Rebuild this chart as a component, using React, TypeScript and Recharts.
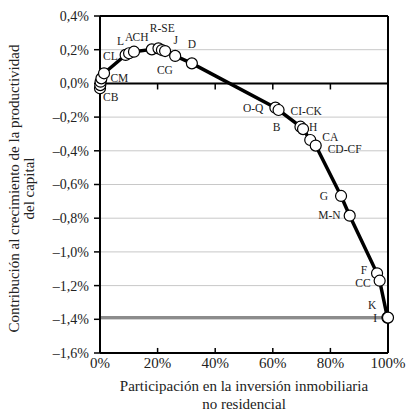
import React from 'react';
import {
  ComposedChart,
  Line,
  XAxis,
  YAxis,
  CartesianGrid,
  ReferenceLine,
  LabelList,
  Label,
} from 'recharts';

// sector codes, in the order they appear along the curve
const sectors = [
  'CB', '', '', 'CM', 'CL', 'L', 'A', 'CH', 'R-SE', '', 'CG', '', 'J', 'D',
  'O-Q', 'CI-CK', 'B', 'H', 'CA', 'CD-CF', 'G', 'M-N', 'F', 'CC', 'K', 'I',
];
// cumulative share of non-residential real estate investment (%)
const share = [
  0.0, 0.1, 0.2, 0.5, 1.4, 8.9, 10.1, 11.8, 18.0, 20.3, 21.5, 22.6, 26.1, 31.9,
  60.9, 62.0, 69.6, 70.5, 73.0, 74.9, 83.7, 86.7, 96.2, 97.1, 99.8, 100,
];
// cumulative contribution to capital productivity growth (%)
const contribution = [
  -0.029, -0.01, 0.01, 0.03, 0.06, 0.169, 0.179, 0.188, 0.202, 0.208, 0.198, 0.192, 0.163, 0.119,
  -0.144, -0.158, -0.257, -0.271, -0.336, -0.369, -0.668, -0.785, -1.127, -1.171, -1.39, -1.39,
];
const xTicks = [0, 20, 40, 60, 80, 100];
const yTicks = [0.4, 0.2, 0, -0.2, -0.4, -0.6, -0.8, -1.0, -1.2, -1.4, -1.6];
const finalLevel = -1.39;

const data = sectors.map((name, i) => ({ name, x: share[i], y: contribution[i] }));

// where each sector code sits relative to its marker: [dx, dy, anchor]
const labelPlace: Record<string, [number, number, string]> = {
  CB: [3, 13, 'start'],
  CM: [9, 4, 'start'],
  CL: [-1, -13, 'start'],
  L: [-1.5, -10, 'end'],
  A: [0, -12, 'middle'],
  CH: [-1.5, -11, 'start'],
  'R-SE': [-2, -17, 'start'],
  CG: [3, 24, 'middle'],
  J: [0.5, -12, 'middle'],
  D: [0, -15, 'middle'],
  'O-Q': [-12, 4, 'end'],
  'CI-CK': [12, 5, 'start'],
  B: [-20, 4, 'end'],
  H: [6, 2, 'start'],
  CA: [12, 1, 'start'],
  'CD-CF': [12, 7, 'start'],
  G: [-13, 4, 'end'],
  'M-N': [-9, 3, 'end'],
  F: [-10, 1, 'end'],
  CC: [-9, 6, 'end'],
  K: [-11, -9, 'end'],
  I: [-11, 4, 'end'],
};

const FONT = '"Liberation Serif", "DejaVu Serif", serif';

const pct = (v: number, digits: number) => {
  const s = Math.abs(v).toFixed(digits).replace('.', ',') + '%';
  return v < -1e-9 ? '–' + s : s;
};

const renderSectorLabel = (props: any) => {
  const { x, y, value } = props;
  const place = labelPlace[value];
  if (!value || !place) return null;
  return (
    <text
      x={x + place[0]}
      y={y + place[1]}
      textAnchor={place[2] as any}
      fontSize={11.5}
      fontFamily={FONT}
      fill="#222"
    >
      {value}
    </text>
  );
};

const YTitle = (props: any) => {
  const { viewBox } = props;
  const cy = viewBox.y + viewBox.height / 2 + 4;
  return (
    <g fontFamily={FONT} fontSize={15} fill="#222">
      <text x={19} y={cy} textAnchor="middle" transform={`rotate(-90 19 ${cy})`}>
        Contribución al crecimiento de la productividad
      </text>
      <text x={34} y={cy} textAnchor="middle" transform={`rotate(-90 34 ${cy})`}>
        del capital
      </text>
    </g>
  );
};

const XTitle = (props: any) => {
  const { viewBox } = props;
  const cx = viewBox.x + viewBox.width / 2;
  return (
    <g fontFamily={FONT} fontSize={15} fill="#222">
      <text x={cx} y={391} textAnchor="middle">
        Participación en la inversión inmobiliaria
      </text>
      <text x={cx} y={409} textAnchor="middle">
        no residencial
      </text>
    </g>
  );
};

export default function App() {
  return (
    <div
      style={{
        position: 'fixed',
        left: 0,
        top: 0,
        width: 409,
        height: 415,
        background: '#fff',
        fontFamily: FONT,
      }}
    >
      <ComposedChart
        width={409}
        height={415}
        data={data}
        margin={{ top: 16, right: 21, bottom: 2, left: 40 }}
      >
        <CartesianGrid vertical={false} stroke="#c8c8c8" strokeWidth={1} />
        <XAxis
          type="number"
          dataKey="x"
          domain={[0, 100]}
          ticks={xTicks}
          tickFormatter={(v: number) => `${v}%`}
          height={60}
          axisLine={{ stroke: '#000', strokeWidth: 2 }}
          tickLine={false}
          tickSize={0}
          tickMargin={4}
          tick={{ fill: '#222', fontSize: 15, fontFamily: FONT }}
          interval={0}
        >
          <Label content={XTitle} />
        </XAxis>
        <YAxis
          type="number"
          domain={[-1.6, 0.4]}
          ticks={yTicks}
          tickFormatter={(v: number) => pct(v, 1)}
          width={60}
          axisLine={{ stroke: '#000', strokeWidth: 2 }}
          tickLine={{ stroke: '#000', strokeWidth: 1.5 }}
          tickSize={6}
          tickMargin={5}
          tick={{ fill: '#222', fontSize: 14, fontFamily: FONT }}
          interval={0}
        >
          <Label content={YTitle} />
        </YAxis>
        <ReferenceLine y={finalLevel} stroke="#8c8c8c" strokeWidth={3} />
        <ReferenceLine y={0} stroke="#000" strokeWidth={2} />
        <ReferenceLine y={0.4} stroke="#000" strokeWidth={2} />
        <ReferenceLine x={100} stroke="#000" strokeWidth={2} />
        {xTicks.slice(1, -1).map((t) => (
          <ReferenceLine
            key={`t0-${t}`}
            segment={[{ x: t, y: 0 }, { x: t, y: -0.036 }]}
            stroke="#000"
            strokeWidth={1.5}
          />
        ))}
        {xTicks.slice(1, -1).map((t) => (
          <ReferenceLine
            key={`tb-${t}`}
            segment={[{ x: t, y: -1.6 }, { x: t, y: -1.57 }]}
            stroke="#000"
            strokeWidth={1.5}
          />
        ))}
        <Line
          type="linear"
          dataKey="y"
          stroke="#000"
          strokeWidth={3.5}
          dot={{ r: 5.5, fill: '#fff', stroke: '#000', strokeWidth: 1.2 }}
          activeDot={false}
          isAnimationActive={false}
        >
          <LabelList dataKey="name" content={renderSectorLabel} />
        </Line>
      </ComposedChart>
    </div>
  );
}
